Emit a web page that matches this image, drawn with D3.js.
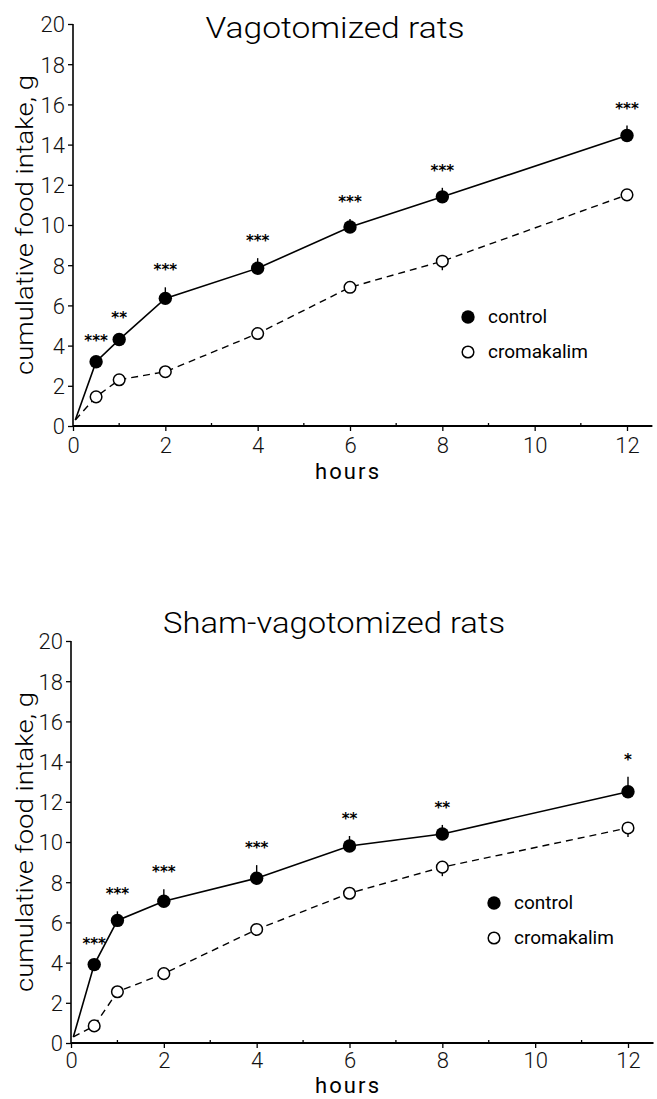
<!DOCTYPE html>
<html>
  <head>
    <script src="https://d3js.org/d3.v7.min.js"></script>
    <style>
      body { margin: 0; background: #fff; }
      svg { display: block; }
      .tick-label { font-family: Roboto, "DejaVu Sans", sans-serif; font-weight: 300; font-size: 22px; fill: #111; }
      .axis-title { font-family: Roboto, "DejaVu Sans", sans-serif; font-weight: 300; font-size: 23px; fill: #000; }
      .hours { font-weight: 400; font-size: 22px; }
      .panel-title { font-family: Roboto, "DejaVu Sans", sans-serif; font-weight: 300; font-size: 29px; fill: #000; }
      .legend-text { font-family: Roboto, "DejaVu Sans", sans-serif; font-size: 19px; fill: #000; }
      .stars { font-family: "DejaVu Sans", sans-serif; font-weight: bold; font-size: 15px; fill: #000; }
    </style>
  </head>
  <body>
    <svg id="chart" width="657" height="1099"></svg>
  </body>
  <script>
    // values (g of food, mean and SEM)
    var hours = [0.5, 1, 2, 4, 6, 8, 12];
    var xTicks = [0, 2, 4, 6, 8, 10, 12];
    var xMinor = [1, 3, 5, 7, 9, 11];
    var yTicks = [0, 2, 4, 6, 8, 10, 12, 14, 16, 18, 20];
    var lineStart = [0.05, 0.3];

    var vagControl = [3.2, 4.3, 6.35, 7.85, 9.9, 11.4, 14.45];
    var vagControlSem = [0.2, 0.25, 0.55, 0.5, 0.4, 0.45, 0.5];
    var vagCroma = [1.45, 2.3, 2.7, 4.6, 6.9, 8.2, 11.5];
    var vagCromaSem = [0.1, 0.1, 0.15, 0.25, 0.15, 0.45, 0.2];
    var vagStars = ["***", "**", "***", "***", "***", "***", "***"];

    var shamControl = [3.9, 6.1, 7.05, 8.2, 9.8, 10.4, 12.5];
    var shamControlSem = [0.2, 0.45, 0.6, 0.65, 0.5, 0.45, 0.75];
    var shamCroma = [0.85, 2.55, 3.45, 5.65, 7.45, 8.75, 10.7];
    var shamCromaSem = [0.1, 0.15, 0.1, 0.2, 0.15, 0.45, 0.45];
    var shamStars = ["***", "***", "***", "***", "**", "**", "*"];

    var svg = d3.select("#chart");

    function drawPanel(p) {
      var x = d3.scaleLinear().domain([0, 12]).range([p.left, p.right]);
      var y = d3.scaleLinear().domain([0, 20]).range([p.bottom, p.top]);
      var g = svg.append("g");

      // y axis
      var yAxis = d3.axisLeft(y).tickValues(yTicks).tickSize(5).tickPadding(3).tickFormat(d3.format("d"));
      var ya = g.append("g").attr("transform", "translate(" + p.left + ",0)").call(yAxis);
      ya.select(".domain").attr("d", "M0," + y(0) + "V" + y(20)).attr("stroke-width", 1.6);
      ya.selectAll(".tick line").attr("stroke-width", 1.3);
      ya.selectAll(".tick text").attr("class", "tick-label").attr("dy", "0.36em");

      // x axis
      var xAxis = d3.axisBottom(x).tickValues(xTicks).tickSize(5).tickPadding(p.xPad).tickFormat(d3.format("d"));
      var xa = g.append("g").attr("transform", "translate(0," + p.bottom + ")").call(xAxis);
      xa.select(".domain").attr("d", "M" + x(0) + ",0H" + x(12.55)).attr("stroke-width", 1.8);
      xa.selectAll(".tick line").attr("stroke-width", 1.3);
      xa.selectAll(".tick text").attr("class", "tick-label").attr("dy", "0.71em");

      g.append("g").selectAll("line").data(xMinor).enter().append("line")
        .attr("x1", function(d) { return x(d); })
        .attr("x2", function(d) { return x(d); })
        .attr("y1", p.bottom)
        .attr("y2", p.bottom - 3)
        .attr("stroke", "#000")
        .attr("stroke-width", 1.3);

      // titles
      g.append("text").attr("class", "panel-title")
        .attr("x", p.titleX).attr("y", p.titleY)
        .attr("text-anchor", "middle")
        .attr("textLength", p.titleLen).attr("lengthAdjust", "spacingAndGlyphs")
        .text(p.title);

      g.append("text").attr("class", "axis-title hours")
        .attr("x", 347).attr("y", p.bottom + p.hoursOff)
        .attr("text-anchor", "middle")
        .attr("textLength", 64).attr("lengthAdjust", "spacing")
        .text("hours");

      g.append("text").attr("class", "axis-title")
        .attr("transform", "translate(33," + y(10) + ") rotate(-90)")
        .attr("text-anchor", "middle")
        .attr("textLength", 300).attr("lengthAdjust", "spacingAndGlyphs")
        .text("cumulative food intake, g");

      var line = d3.line()
        .x(function(d) { return x(d[0]); })
        .y(function(d) { return y(d[1]); });

      var ctrl = [lineStart].concat(hours.map(function(h, i) { return [h, p.control[i]]; }));
      var crom = [lineStart].concat(hours.map(function(h, i) { return [h, p.croma[i]]; }));

      g.append("path").attr("d", line(crom))
        .attr("fill", "none").attr("stroke", "#000").attr("stroke-width", 1.4)
        .attr("stroke-dasharray", "7,5");
      g.append("path").attr("d", line(ctrl))
        .attr("fill", "none").attr("stroke", "#000").attr("stroke-width", 1.6);

      // error bars: up for control, down for cromakalim
      g.append("g").selectAll("line").data(hours).enter().append("line")
        .attr("x1", function(d) { return x(d); })
        .attr("x2", function(d) { return x(d); })
        .attr("y1", function(d, i) { return y(p.control[i]); })
        .attr("y2", function(d, i) { return y(p.control[i] + p.controlSem[i]); })
        .attr("stroke", "#000").attr("stroke-width", 1.4);
      g.append("g").selectAll("line").data(hours).enter().append("line")
        .attr("x1", function(d) { return x(d); })
        .attr("x2", function(d) { return x(d); })
        .attr("y1", function(d, i) { return y(p.croma[i]); })
        .attr("y2", function(d, i) { return y(p.croma[i] - p.cromaSem[i]); })
        .attr("stroke", "#000").attr("stroke-width", 1.4);

      g.append("g").selectAll("circle").data(hours).enter().append("circle")
        .attr("cx", function(d) { return x(d); })
        .attr("cy", function(d, i) { return y(p.croma[i]); })
        .attr("r", 5.8)
        .attr("fill", "#fff").attr("stroke", "#000").attr("stroke-width", 1.5);
      g.append("g").selectAll("circle").data(hours).enter().append("circle")
        .attr("cx", function(d) { return x(d); })
        .attr("cy", function(d, i) { return y(p.control[i]); })
        .attr("r", 6.7)
        .attr("fill", "#000");

      g.append("g").selectAll("text").data(hours).enter().append("text")
        .attr("class", "stars")
        .attr("x", function(d) { return x(d); })
        .attr("y", function(d, i) { return y(p.control[i] + p.controlSem[i]) - 12; })
        .attr("text-anchor", "middle")
        .text(function(d, i) { return p.stars[i]; });

      // legend
      g.append("circle").attr("cx", p.legX).attr("cy", p.legY).attr("r", 6.7).attr("fill", "#000");
      g.append("circle").attr("cx", p.legX).attr("cy", p.legY + 35).attr("r", 5.8)
        .attr("fill", "#fff").attr("stroke", "#000").attr("stroke-width", 1.5);
      g.append("text").attr("class", "legend-text").attr("x", p.legX + 20).attr("y", p.legY + 6).text("control");
      g.append("text").attr("class", "legend-text").attr("x", p.legX + 20).attr("y", p.legY + 41).text("cromakalim");
    }

    drawPanel({
      title: "Vagotomized rats", titleX: 335, titleY: 38, titleLen: 259,
      left: 73, right: 627, top: 24, bottom: 426, hoursOff: 53, xPad: 6,
      control: vagControl, controlSem: vagControlSem,
      croma: vagCroma, cromaSem: vagCromaSem, stars: vagStars,
      legX: 468, legY: 317
    });

    drawPanel({
      title: "Sham-vagotomized rats", titleX: 334, titleY: 633, titleLen: 342,
      left: 71, right: 628, top: 641, bottom: 1043, hoursOff: 50, xPad: 4,
      control: shamControl, controlSem: shamControlSem,
      croma: shamCroma, cromaSem: shamCromaSem, stars: shamStars,
      legX: 494, legY: 903
    });
  </script>
</html>
